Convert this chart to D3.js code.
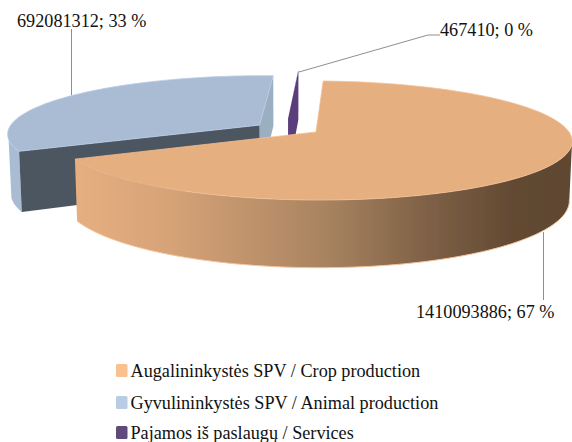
<!DOCTYPE html>
<html>
<head>
<meta charset="utf-8">
<script src="https://cdn.jsdelivr.net/npm/d3@7"></script>
<style>
html, body { margin: 0; padding: 0; background: #fff; }
svg { display: block; }
text { font-family: "Liberation Serif", serif; fill: #111; }
</style>
</head>
<body>
<div id="chart"></div>
<script>
const categories = ["Augalininkystės SPV / Crop production", "Gyvulininkystės SPV / Animal production", "Pajamos iš paslaugų / Services"];
const values = [1410093886, 692081312, 467410];

const topColors = ["#e6af80", "#a9bcd4", "#5b3c7c"];
const legendColors = ["#fac090", "#b8cce4", "#604a7b"];

const width = 572, height = 442;
const svg = d3.select("#chart").append("svg").attr("width", width).attr("height", height);

// fake 3d: ellipse + simple perspective around a view centre
const viewX = 290, viewY = 132;
const rx = 253, ry = 58.3, k = 0.143, depth = 58, shrink = 0.99;
const explode = [[26, 0], [-31, -7], [-2, -14]];
const rad = Math.PI / 180;

function project(slice, angle, r, drop) {
    const wx = explode[slice][0] + rx * r * Math.sin(angle);
    const wy = explode[slice][1] - ry * r * Math.cos(angle);
    const s = 1 / (1 - k * wy / ry);
    const f = drop ? shrink : 1;
    return [viewX + wx * s * f, viewY + wy * s + (drop ? depth * s : 0)];
}

const pie = d3.pie().sort(null).startAngle(2.7 * rad).endAngle((360 + 2.7) * rad);
const arcs = pie(values);
const line = d3.line();

function rim(slice, a0, a1, drop) {
    const steps = Math.max(2, Math.ceil(Math.abs(a1 - a0) * 40));
    return d3.range(steps + 1).map(i => project(slice, a0 + (a1 - a0) * i / steps, 1, drop));
}
const apex = (slice, drop) => project(slice, 0, 0, drop);
const cutFace = (slice, a) => line([apex(slice, false), project(slice, a, 1, false), project(slice, a, 1, true), apex(slice, true)]) + "Z";
const wallPath = (slice, a0, a1) => line(rim(slice, a0, a1, false).concat(rim(slice, a0, a1, true).reverse())) + "Z";
const topPath = (slice, a0, a1) => line([apex(slice, false)].concat(rim(slice, a0, a1, false))) + "Z";

const defs = svg.append("defs");
const wallGrad = defs.append("linearGradient").attr("id", "cropWall")
    .attr("gradientUnits", "userSpaceOnUse")
    .attr("x1", 75).attr("x2", 572).attr("y1", 0).attr("y2", 0);
[[0, "#e6af80"], [0.2, "#d5a277"], [0.5, "#a98460"], [0.72, "#7c5f45"], [0.88, "#634a33"], [1, "#5f4630"]]
    .forEach(s => wallGrad.append("stop").attr("offset", s[0]).attr("stop-color", s[1]));
defs.append("filter").attr("id", "soft").append("feGaussianBlur").attr("stdDeviation", 0.4);

const pieGroup = svg.append("g").attr("filter", "url(#soft)");

// blue slice, wall only up to the left silhouette
const blue = arcs[1];
pieGroup.append("path").attr("d", wallPath(1, blue.startAngle, 256 * rad)).attr("fill", "#a9bcd4");
pieGroup.append("path").attr("d", cutFace(1, blue.endAngle)).attr("fill", "#9bafc2");
pieGroup.append("path").attr("d", cutFace(1, blue.startAngle)).attr("fill", "#4c5660");
pieGroup.append("path").attr("d", topPath(1, blue.startAngle, blue.endAngle)).attr("fill", topColors[1]).attr("stroke", "#b8cce4").attr("stroke-width", 0.8);

// services slice, only its cut face is really visible
const serv = arcs[2];
pieGroup.append("path").attr("d", cutFace(2, serv.endAngle)).attr("fill", topColors[2]);
pieGroup.append("path").attr("d", topPath(2, serv.startAngle, serv.endAngle)).attr("fill", topColors[2]);

// crop slice, wall starts at the right silhouette
const crop = arcs[0];
pieGroup.append("path").attr("d", wallPath(0, 98 * rad, crop.endAngle)).attr("fill", "url(#cropWall)");
pieGroup.append("path").attr("d", line(rim(0, 98 * rad, crop.endAngle, true))).attr("fill", "none").attr("stroke", "#f4c49c").attr("stroke-width", 1);
pieGroup.append("path").attr("d", topPath(0, crop.startAngle, crop.endAngle)).attr("fill", topColors[0]).attr("stroke", "#f2bf96").attr("stroke-width", 0.8);

// leader lines
const leaders = [
    [[543.5, 232], [543.5, 300]],
    [[71.5, 29], [71.5, 95]],
    [[440, 35], [428, 35], [299, 72]]
];
svg.selectAll(".leader").data(leaders).enter().append("path")
    .attr("class", "leader")
    .attr("d", d => line(d))
    .attr("fill", "none")
    .attr("stroke", "#8f8f8f")
    .attr("stroke-width", 1);

// data labels
const total = d3.sum(values);
const labelPos = [[416, 318], [17, 27], [440, 36]];
svg.selectAll(".data-label").data(values).enter().append("text")
    .attr("class", "data-label")
    .attr("x", (d, i) => labelPos[i][0])
    .attr("y", (d, i) => labelPos[i][1])
    .style("font-size", "18.2px")
    .text(d => `${d}; ${Math.round(d / total * 100)} %`);

// legend
const legendY = [370.5, 402.5, 432.5];
const legend = svg.selectAll(".legend").data(categories).enter().append("g")
    .attr("class", "legend")
    .attr("transform", (d, i) => `translate(116,${legendY[i]})`);
legend.append("rect")
    .attr("x", 0).attr("y", -6.5).attr("width", 11.5).attr("height", 13).attr("rx", 1.5)
    .attr("fill", (d, i) => legendColors[i]);
legend.append("text")
    .attr("x", 14.5).attr("y", 6)
    .style("font-size", "18.2px")
    .text(d => d);
</script>
</body>
</html>
